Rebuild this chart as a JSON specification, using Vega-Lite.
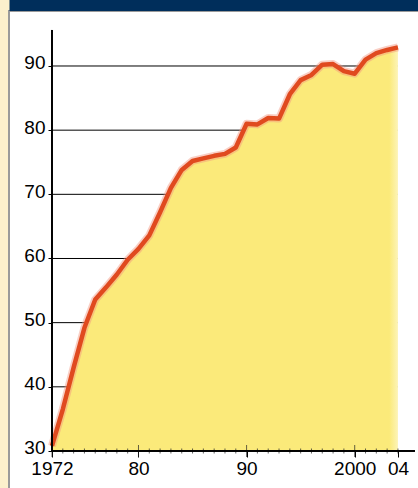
{
  "$schema": "https://vega.github.io/schema/vega-lite/v6.json",
  "width": 411,
  "height": 479,
  "autosize": {"type": "none"},
  "padding": {"left": 9, "top": 11, "right": 0, "bottom": 0},
  "background": "#FCF0CC",
  "config": {
    "view": {"fill": "white", "stroke": "#9a9a9a", "strokeWidth": 2},
    "font": "Liberation Sans",
    "axis": {"labelFont": "Liberation Sans", "labelColor": "black", "labelFontSize": 19, "grid": false}
  },
  "datasets": {
    "share": [
      {"year": 1972, "value": 30.8},
      {"year": 1973, "value": 36.5},
      {"year": 1974, "value": 43.0},
      {"year": 1975, "value": 49.2},
      {"year": 1976, "value": 53.6},
      {"year": 1977, "value": 55.5},
      {"year": 1978, "value": 57.5},
      {"year": 1979, "value": 59.8},
      {"year": 1980, "value": 61.5},
      {"year": 1981, "value": 63.6},
      {"year": 1982, "value": 67.2},
      {"year": 1983, "value": 71.0},
      {"year": 1984, "value": 73.8},
      {"year": 1985, "value": 75.2},
      {"year": 1986, "value": 75.6},
      {"year": 1987, "value": 76.0},
      {"year": 1988, "value": 76.3},
      {"year": 1989, "value": 77.3},
      {"year": 1990, "value": 81.0},
      {"year": 1991, "value": 80.9},
      {"year": 1992, "value": 81.9},
      {"year": 1993, "value": 81.8},
      {"year": 1994, "value": 85.6},
      {"year": 1995, "value": 87.8},
      {"year": 1996, "value": 88.6},
      {"year": 1997, "value": 90.2},
      {"year": 1998, "value": 90.3},
      {"year": 1999, "value": 89.2},
      {"year": 2000, "value": 88.8},
      {"year": 2001, "value": 91.0},
      {"year": 2002, "value": 92.0},
      {"year": 2003, "value": 92.5},
      {"year": 2004, "value": 92.9}
    ],
    "grid": [{"g": 40}, {"g": 50}, {"g": 60}, {"g": 70}, {"g": 80}, {"g": 90}]
  },
  "resolve": {"axis": {"x": "independent", "y": "independent"}},
  "layer": [
    {
      "data": {"name": "grid"},
      "mark": {"type": "rule", "color": "black", "strokeWidth": 1},
      "encoding": {
        "x": {"datum": 1972, "type": "quantitative", "scale": {"domain": [1968.023, 2006.04], "nice": false, "zero": false}, "axis": null},
        "x2": {"datum": 2004},
        "y": {"field": "g", "type": "quantitative", "scale": {"domain": [23.92, 98.57], "nice": false, "zero": false}, "axis": null}
      }
    },
    {
      "data": {"name": "share"},
      "mark": {
        "type": "area",
        "fill": {"gradient": "linear", "x1": 0, "x2": 1, "y1": 0, "y2": 0,
          "stops": [{"offset": 0, "color": "#FBEA7A"}, {"offset": 0.975, "color": "#FBEA7A"}, {"offset": 1, "color": "#FDF4B8"}]},
        "stroke": null
      },
      "encoding": {
        "x": {"field": "year", "type": "quantitative",
          "axis": {"orient": "bottom", "offset": -39, "values": [1972, 1980, 1990, 2000, 2004], "domain": false, "ticks": true, "tickSize": 6, "tickColor": "black", "labelPadding": 2, "title": null,
            "labelExpr": "datum.value == 1972 ? '1972' : datum.value == 1980 ? '80' : datum.value == 1990 ? '90' : datum.value == 2000 ? '2000' : '04'"}},
        "y": {"field": "value", "type": "quantitative",
          "axis": {"orient": "left", "offset": -43, "values": [30, 40, 50, 60, 70, 80, 90], "domain": false, "tickSize": 4, "tickColor": "black", "labelPadding": 3, "labelOffset": -3, "title": null}},
        "y2": {"datum": 30}
      }
    },
    {
      "data": {"name": "share"},
      "mark": {"type": "line", "stroke": "#F2957E", "strokeWidth": 8, "opacity": 0.45, "strokeJoin": "round"},
      "encoding": {
        "x": {"field": "year", "type": "quantitative", "axis": null},
        "y": {"field": "value", "type": "quantitative", "axis": null}
      }
    },
    {
      "data": {"name": "share"},
      "mark": {"type": "line", "stroke": "#E04A1F", "strokeWidth": 4.5, "strokeJoin": "round"},
      "encoding": {
        "x": {"field": "year", "type": "quantitative", "axis": null},
        "y": {"field": "value", "type": "quantitative", "axis": null}
      }
    },
    {
      "data": {"name": "share"},
      "mark": {"type": "tick", "orient": "vertical", "color": "#222", "thickness": 1},
      "encoding": {
        "x": {"field": "year", "type": "quantitative", "axis": null},
        "y": {"datum": 30, "type": "quantitative", "axis": null},
        "size": {"condition": {"test": "indexof([1972, 1980, 1990, 2000], datum.year) >= 0", "value": 12}, "value": 5}
      }
    },
    {
      "data": {"name": "grid"},
      "mark": {"type": "rule", "color": "black", "strokeWidth": 1},
      "encoding": {
        "x": {"datum": 1972, "type": "quantitative", "axis": null},
        "y": {"datum": 30, "type": "quantitative", "axis": null},
        "y2": {"datum": 95.61}
      }
    },
    {
      "data": {"name": "grid"},
      "mark": {"type": "rule", "color": "black", "strokeWidth": 1},
      "encoding": {
        "x": {"datum": 1972, "type": "quantitative",
          "axis": {"orient": "top", "offset": 6, "domain": true, "domainColor": "#002E5B", "domainWidth": 11, "domainCap": "butt", "ticks": false, "labels": false, "grid": false, "title": null}},
        "x2": {"datum": 2005.57},
        "y": {"datum": 30, "type": "quantitative", "axis": null}
      }
    }
  ]
}
